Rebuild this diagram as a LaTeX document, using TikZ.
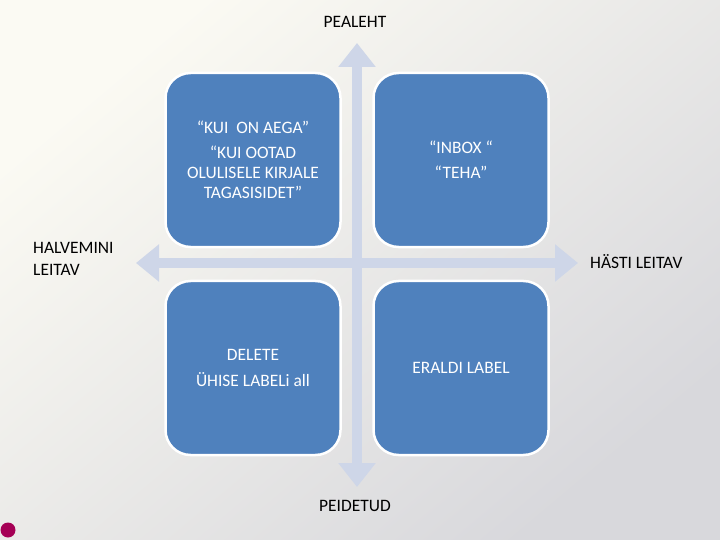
\documentclass[tikz,border=0pt]{standalone}
\usepackage{fontspec}
\setmainfont{Carlito}
\usetikzlibrary{arrows.meta}

\definecolor{bgtop}{RGB}{251,250,243}
\definecolor{bgbot}{RGB}{216,216,220}
\definecolor{axisblue}{RGB}{206,214,232}
\definecolor{boxblue}{RGB}{79,129,189}
\definecolor{dotred}{RGB}{165,0,85}

\tikzset{
  quad/.style={draw=white, line width=2.5bp, fill=boxblue, rounded corners=25bp,
    minimum width=175bp, minimum height=174bp, text=white, align=center,
    font=\fontsize{17.5}{20}\selectfont},
  axislabel/.style={font=\fontsize{17.5}{22}\selectfont, text=black, inner sep=0pt},
  axisline/.style={draw=axisblue, line width=10bp},
  axishead/.style={Triangle[width=36bp, length=23bp]}
}

\begin{document}
\begin{tikzpicture}[x=1bp, y=-1bp]
\useasboundingbox (0,0) rectangle (720,540);
\shade[top color=bgtop, bottom color=bgbot, shading angle=40] (0,0) rectangle (720,540);
% axes
\coordinate (top) at (357,43);
\coordinate (bottom) at (357,487);
\coordinate (left) at (136,263);
\coordinate (right) at (578,263);
\draw[axisline, {Triangle[width=36bp, length=24bp]}-{Triangle[width=36bp, length=24bp]}] (bottom) -- (top);
\draw[axisline, {Triangle[width=36bp, length=23bp]}-{Triangle[width=36bp, length=23bp]}] (left) -- (right);
% quadrants
\node[quad] (slow) at (253,160) {\mbox{“KUI\ \ ON AEGA”}\\[5bp] “KUI OOTAD\\ OLULISELE KIRJALE\\ TAGASISIDET”};
\node[quad] (inbox) at (461,160) {“INBOX “\\[5bp] “TEHA”};
\node[quad] (delete) at (253,368) {DELETE\\[7bp] ÜHISE LABELi all};
\node[quad] (label) at (461,368) {ERALDI LABEL};
% axis labels
\node[axislabel] (main) at (355,22) {PEALEHT};
\node[axislabel] (hidden) at (355,506) {PEIDETUD};
\node[axislabel, anchor=west, align=left] (worse) at (33,259) {HALVEMINI\\ LEITAV};
\node[axislabel, anchor=west] (better) at (590,262) {HÄSTI LEITAV};
\fill[dotred] (8,530) circle (7.5);
\end{tikzpicture}
\end{document}
